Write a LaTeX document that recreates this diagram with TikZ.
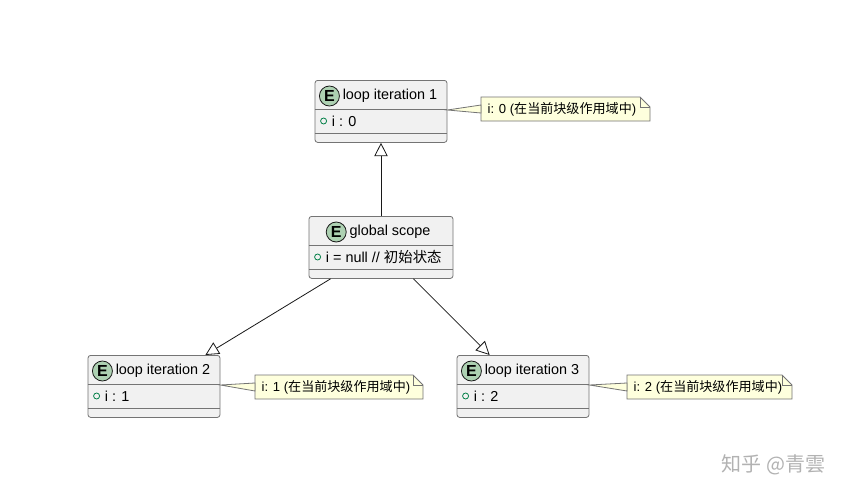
\documentclass[tikz,border=0pt]{standalone}
\usepackage{fontspec}
\setmainfont{Liberation Sans}
\newfontfamily\cjk{Noto Sans CJK SC}
\usetikzlibrary{arrows.meta,positioning,calc}

\definecolor{boxfill}{HTML}{F1F1F1}
\definecolor{boxline}{HTML}{181818}
\definecolor{notefill}{HTML}{FEFFDD}
\definecolor{ecircle}{HTML}{ADD1B2}
\definecolor{attrdot}{HTML}{038048}

\tikzset{
  entbox/.style={draw=boxline!60, fill=boxfill, rounded corners=2pt, line width=0.6pt, minimum width=#1*0.75pt, minimum height=46.5pt, inner sep=0pt},
  ecirc/.style={circle, draw=boxline, fill=ecircle, line width=0.6pt, inner sep=0pt, minimum size=15pt, font=\bfseries\fontsize{12}{12}\selectfont},
  etitle/.style={font=\fontsize{10.8}{12}\selectfont, inner sep=0.5pt},
  eattr/.style={font=\fontsize{10.8}{12}\selectfont, anchor=west, inner sep=0.5pt},
  notebox/.style={font=\fontsize{9.8}{11}\selectfont, anchor=west, inner sep=1pt},
  ext/.style={-{Triangle[open,length=10pt,width=10pt]}, draw=boxline, line width=0.6pt},
}

% entity: name, center x, top y, width, title, attribute
\newcommand{\entity}[6]{
  \node[entbox=#4, anchor=north] (#1) at (#2,#3) {};
  \draw[boxline!60, line width=0.6pt] ($(#1.north west)+(0,29)$) -- ($(#1.north east)+(0,29)$);
  \draw[boxline!60, line width=0.6pt] ($(#1.north west)+(0,53)$) -- ($(#1.north east)+(0,53)$);
  \node[etitle] (#1-t) at ($(#1.north)+(9,16)$) {#5};
  \node[ecirc, left=1.5pt of #1-t] (#1-e) {E};
  \node[circle, draw=attrdot, line width=0.6pt, inner sep=0pt, minimum size=4.5pt] (#1-d) at ($(#1.north west)+(9,41)$) {};
  \node[eattr, right=3pt of #1-d] (#1-a) {#6};
}

% note: name, left x, top y, width, text
\newcommand{\notecard}[5]{
  \draw[boxline!60, fill=notefill, line width=0.6pt] (#2,#3) -- ++(#4-10,0) -- ++(10,10) -- ++(0,14) -- ++(-#4,0) -- cycle;
  \draw[boxline!60, line width=0.6pt] (#2+#4-10,#3) -- ++(0,10) -- ++(10,0);
  \coordinate (#1) at (#2,#3+12);
  \node[notebox] (#1-txt) at (#2+5,#3+12) {#5};
}

\begin{document}
\begin{tikzpicture}[x=0.75pt,y=-0.75pt]
\useasboundingbox[fill=white] (0,0) rectangle (851,500);

\entity{loopa}{381}{80}{132}{loop iteration 1}{i : 0}
\entity{glob}{381}{216}{144}{global scope}{i = null // {\cjk 初始状态}}
\entity{loopb}{154}{355}{132}{loop iteration 2}{i : 1}
\entity{loopc}{523}{355}{132}{loop iteration 3}{i : 2}

\notecard{notea}{481}{97}{169}{i: 0 ({\cjk 在当前块级作用域中})}
\notecard{noteb}{255}{375}{168}{i: 1 ({\cjk 在当前块级作用域中})}
\notecard{notec}{627}{375}{165}{i: 2 ({\cjk 在当前块级作用域中})}

% note links
\foreach \b/\n in {loopa/notea, loopb/noteb, loopc/notec}
  \draw[boxline!60, fill=notefill, line width=0.6pt]
    ($(\b.north east)+(0,30)$) -- ($(\n)+(0,-4)$) -- ($(\n)+(0,4)$) -- cycle;

% extension arrows
\draw[ext] (glob.north) -- (loopa.south);
\draw[ext] ($(glob.south west)+(22,0)$) -- ($(loopb.north east)+(-15,0)$);
\draw[ext] ($(glob.south east)+(-40,0)$) -- ($(loopc.north west)+(33,0)$);

\node[text=gray!60, font=\cjk\fontsize{15}{18}\selectfont, anchor=east] (mark) at (830,465) {知乎 @青雲};
\end{tikzpicture}
\end{document}
